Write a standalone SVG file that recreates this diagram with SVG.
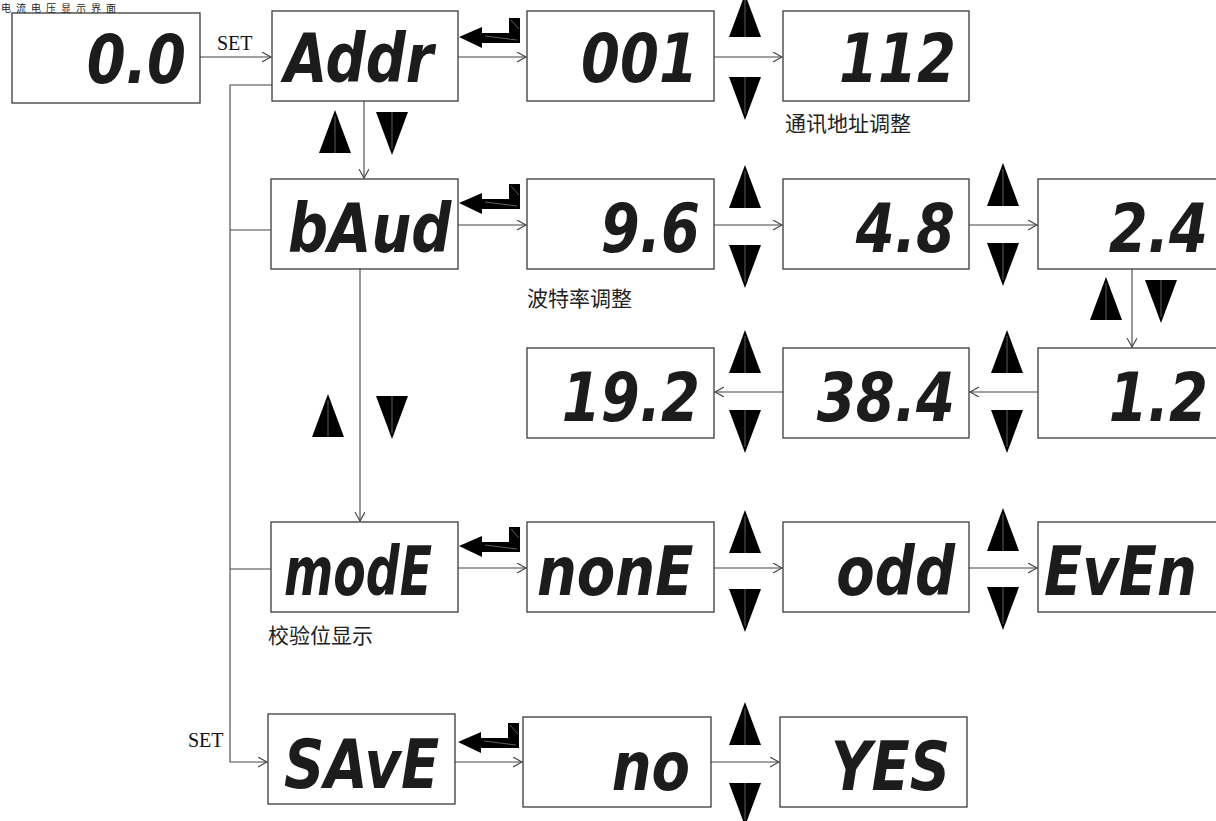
<svg xmlns="http://www.w3.org/2000/svg" xmlns:xlink="http://www.w3.org/1999/xlink" width="1216" height="821" viewBox="0 0 1216 821">
<style>
.box{fill:#fff;stroke:#3a3a3a;stroke-width:1.3}
.seg{font-family:"DejaVu Sans","Liberation Sans",sans-serif;font-weight:bold;font-style:oblique;font-size:56px;fill:#1c1c1c}
.lbl{font-family:"Liberation Serif",serif;font-size:20px;fill:#111}
.cjk{font-family:"Noto Sans CJK SC",sans-serif;font-size:21px;fill:#222}
.con{fill:none;stroke:#444;stroke-width:1.1}
</style>
<defs>
<marker id="ah" markerUnits="userSpaceOnUse" markerWidth="12" markerHeight="12" refX="9" refY="5" orient="auto">
<path d="M0,0 L9,5 L0,10" fill="none" stroke="#444" stroke-width="1.1"/>
</marker>
<g id="tu"><path d="M0,0 L16,43 L-16,43 Z" fill="#000"/><line x1="0" y1="6" x2="0" y2="43" stroke="#777" stroke-width="0.8"/></g>
<g id="td"><path d="M-16,0 L16,0 L0,43 Z" fill="#000"/><line x1="0" y1="0" x2="0" y2="37" stroke="#777" stroke-width="0.8"/></g>
<g id="ent"><path d="M0,0 L23,-10 L23,-4 L50,-4 L50,-19 L61,-19 L61,6 L23,6 L23,11 Z" fill="#000"/><line x1="52" y1="-17" x2="60" y2="-8" stroke="#888" stroke-width="0.7"/><line x1="26" y1="-1" x2="58" y2="3" stroke="#888" stroke-width="0.7"/></g>
</defs>

<text class="cjk" x="1" y="11.8" style="font-size:10px;letter-spacing:5px">电流电压显示界面</text>

<g id="connectors">
<path class="con" d="M200,57 H271" marker-end="url(#ah)"/>
<path class="con" d="M458,57 H526" marker-end="url(#ah)"/>
<path class="con" d="M714,57 H782" marker-end="url(#ah)"/>
<path class="con" d="M364,101 V178" marker-end="url(#ah)"/>
<path class="con" d="M458,225 H526" marker-end="url(#ah)"/>
<path class="con" d="M714,225 H782" marker-end="url(#ah)"/>
<path class="con" d="M969,225 H1037" marker-end="url(#ah)"/>
<path class="con" d="M1132,269 V347" marker-end="url(#ah)"/>
<path class="con" d="M1038,392 H970" marker-end="url(#ah)"/>
<path class="con" d="M783,392 H715" marker-end="url(#ah)"/>
<path class="con" d="M360,269 V521" marker-end="url(#ah)"/>
<path class="con" d="M458,568 H526" marker-end="url(#ah)"/>
<path class="con" d="M714,568 H782" marker-end="url(#ah)"/>
<path class="con" d="M969,568 H1037" marker-end="url(#ah)"/>
<path class="con" d="M455,762 H522" marker-end="url(#ah)"/>
<path class="con" d="M711,762 H779" marker-end="url(#ah)"/>
<path class="con" d="M272,85 H230 V762 H267" marker-end="url(#ah)"/>
<path class="con" d="M230,230 H271"/>
<path class="con" d="M230,569 H271"/>
<text class="lbl" x="217" y="50">SET</text>
<text class="lbl" x="188" y="747">SET</text>
</g>

<g id="keys">
<use href="#tu" x="745" y="-6"/><use href="#td" x="745" y="77"/>
<use href="#tu" x="335" y="110"/><use href="#td" x="392" y="112"/>
<use href="#tu" x="745" y="165"/><use href="#td" x="745" y="245"/>
<use href="#tu" x="1003" y="163"/><use href="#td" x="1003" y="243"/>
<use href="#tu" x="1106" y="277"/><use href="#td" x="1161" y="280"/>
<use href="#tu" x="328" y="394"/><use href="#td" x="392" y="396"/>
<use href="#tu" x="745" y="330"/><use href="#td" x="745" y="410"/>
<use href="#tu" x="1007" y="330"/><use href="#td" x="1007" y="410"/>
<use href="#tu" x="745" y="510"/><use href="#td" x="745" y="589"/>
<use href="#tu" x="1003" y="508"/><use href="#td" x="1003" y="587"/>
<use href="#tu" x="745" y="702"/><use href="#td" x="745" y="783"/>
<use href="#ent" x="459" y="37"/>
<use href="#ent" x="459" y="203"/>
<use href="#ent" x="459" y="546"/>
<use href="#ent" x="458" y="742"/>
</g>

<g id="n-current"><rect class="box" x="12" y="13" width="188" height="90"/><text class="seg" text-anchor="end" transform="translate(186,83) scale(1,1.22)">0.0</text></g>
<g id="n-addr"><rect class="box" x="272" y="11" width="186" height="90"/><text class="seg" transform="translate(284,82) scale(1,1.22)">Addr</text></g>
<g id="n-001"><rect class="box" x="527" y="11" width="187" height="90"/><text class="seg" text-anchor="end" transform="translate(698,82) scale(1,1.22)">001</text></g>
<g id="n-112"><rect class="box" x="783" y="11" width="186" height="90"/><text class="seg" text-anchor="end" transform="translate(956,82) scale(1,1.22)">112</text></g>
<text class="cjk" x="785" y="131">通讯地址调整</text>

<g id="n-baud"><rect class="box" x="271" y="179" width="187" height="90"/><text class="seg" transform="translate(288,252) scale(1,1.22)">bAud</text></g>
<g id="n-96"><rect class="box" x="527" y="179" width="187" height="90"/><text class="seg" text-anchor="end" transform="translate(700,252) scale(1,1.22)">9.6</text></g>
<g id="n-48"><rect class="box" x="783" y="179" width="186" height="90"/><text class="seg" text-anchor="end" transform="translate(955,252) scale(1,1.22)">4.8</text></g>
<g id="n-24"><rect class="box" x="1038" y="179" width="187" height="90"/><text class="seg" text-anchor="end" transform="translate(1208,252) scale(1,1.22)">2.4</text></g>
<text class="cjk" x="527" y="306">波特率调整</text>

<g id="n-192"><rect class="box" x="527" y="348" width="187" height="90"/><text class="seg" text-anchor="end" transform="translate(700,421) scale(1,1.22)">19.2</text></g>
<g id="n-384"><rect class="box" x="783" y="348" width="186" height="90"/><text class="seg" text-anchor="end" transform="translate(955,421) scale(1,1.22)">38.4</text></g>
<g id="n-12"><rect class="box" x="1038" y="348" width="187" height="90"/><text class="seg" text-anchor="end" transform="translate(1208,421) scale(1,1.22)">1.2</text></g>

<g id="n-mode"><rect class="box" x="271" y="522" width="187" height="90"/><text class="seg" textLength="148" lengthAdjust="spacingAndGlyphs" transform="translate(284,595) scale(1,1.22)">modE</text></g>
<g id="n-none"><rect class="box" x="527" y="522" width="187" height="90"/><text class="seg" transform="translate(537,595) scale(1,1.22)">nonE</text></g>
<g id="n-odd"><rect class="box" x="783" y="522" width="186" height="90"/><text class="seg" text-anchor="end" transform="translate(955,595) scale(1,1.22)">odd</text></g>
<g id="n-even"><rect class="box" x="1038" y="522" width="187" height="90"/><text class="seg" transform="translate(1044,595) scale(1,1.22)">EvEn</text></g>
<text class="cjk" x="268" y="643">校验位显示</text>

<g id="n-save"><rect class="box" x="268" y="714" width="187" height="90"/><text class="seg" transform="translate(284,788) scale(1,1.22)">SAvE</text></g>
<g id="n-no"><rect class="box" x="523" y="717" width="188" height="90"/><text class="seg" text-anchor="end" transform="translate(690,790) scale(1,1.22)">no</text></g>
<g id="n-yes"><rect class="box" x="780" y="717" width="187" height="90"/><text class="seg" text-anchor="end" transform="translate(950,790) scale(1,1.22)">YES</text></g>
</svg>
